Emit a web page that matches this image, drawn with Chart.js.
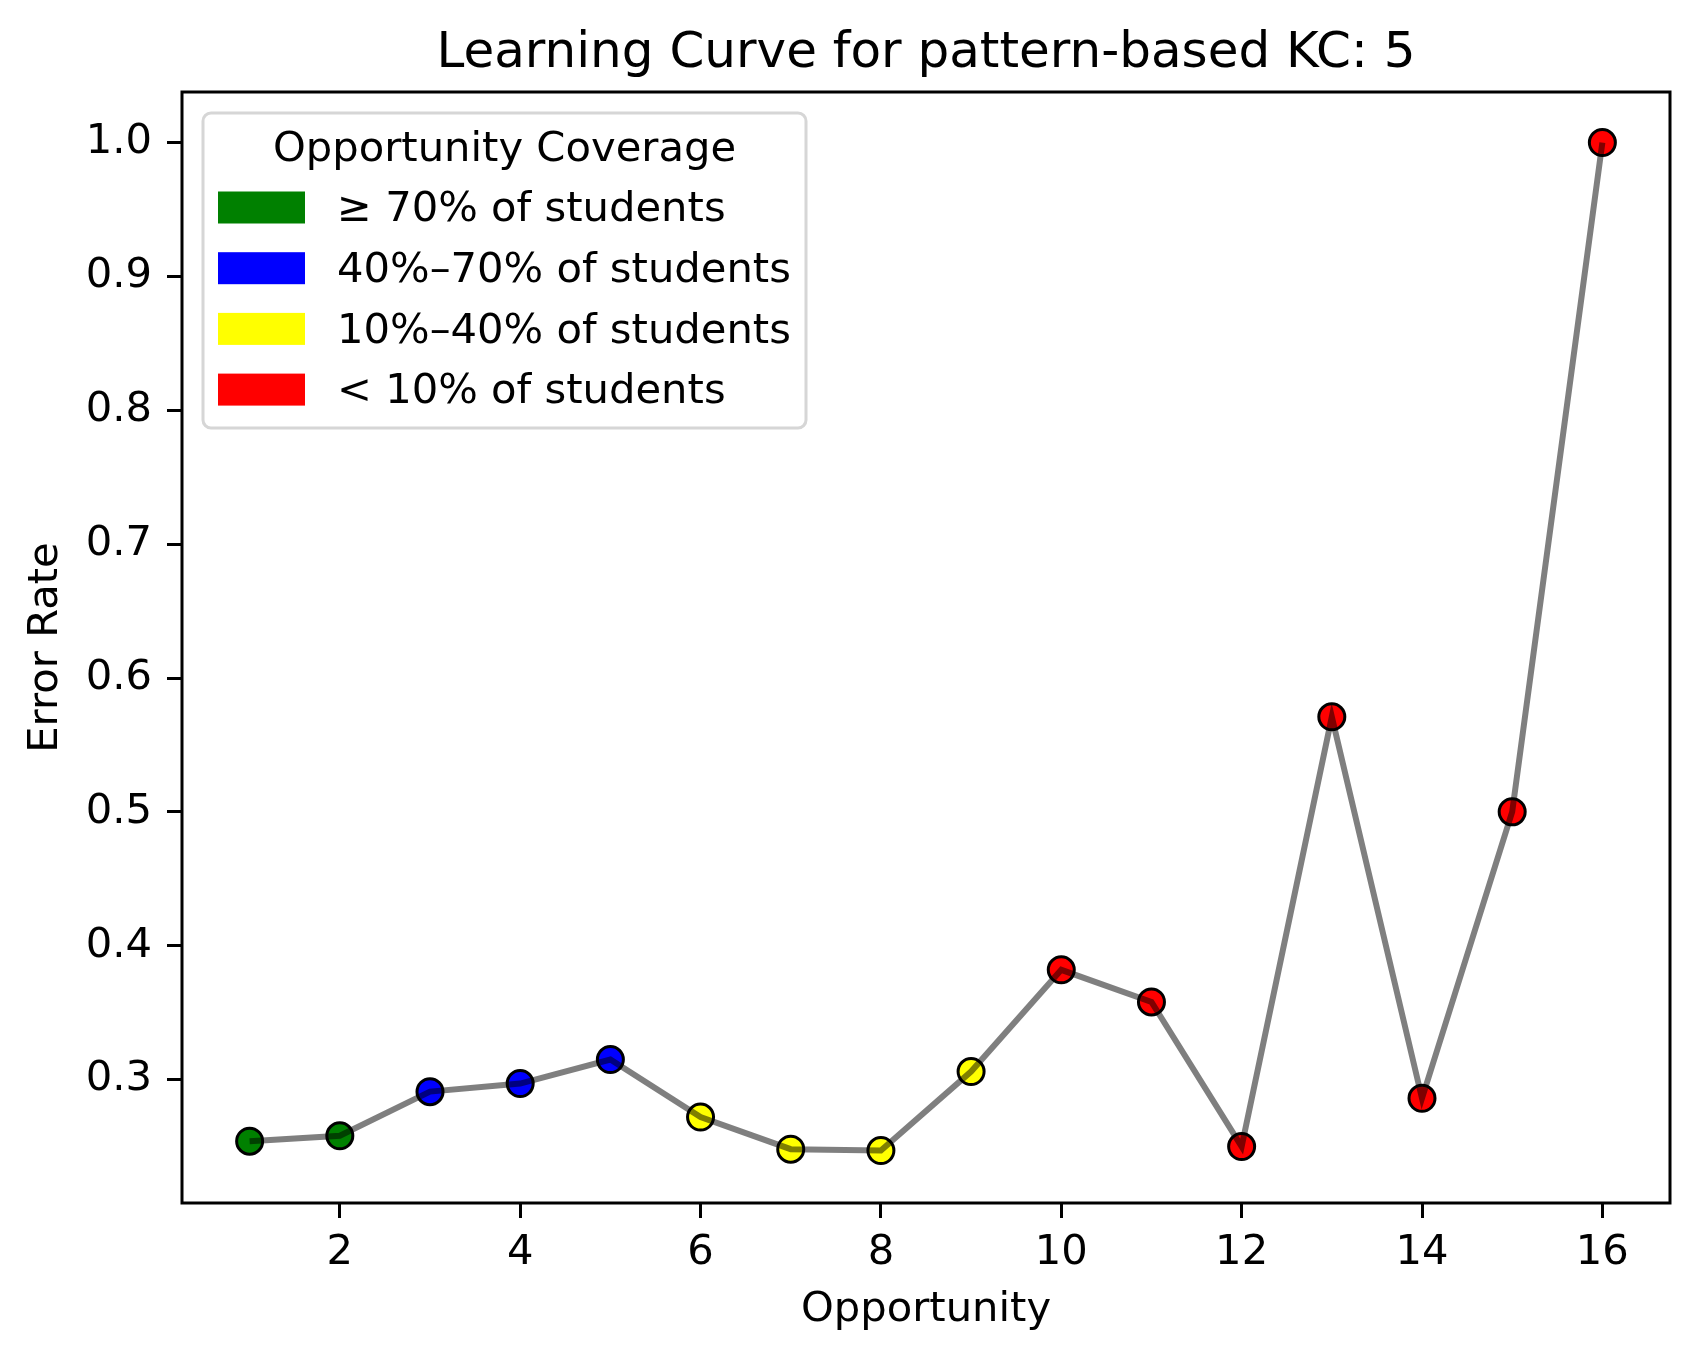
<!DOCTYPE html>
<html>
<head>
<meta charset="utf-8">
<script src="https://cdn.jsdelivr.net/npm/chart.js@4/dist/chart.umd.min.js"></script>
<style>
  body { margin: 0; background: #fff; }
  #wrap { width: 1700px; height: 1357px; position: relative; }
</style>
</head>
<body>
<div id="wrap"><canvas id="lc"></canvas></div>
<script>
const opportunities = [1, 2, 3, 4, 5, 6, 7, 8, 9, 10, 11, 12, 13, 14, 15, 16];
const errorRates    = [0.254, 0.258, 0.291, 0.297, 0.315, 0.272, 0.248, 0.247, 0.306, 0.382, 0.358, 0.250, 0.571, 0.286, 0.500, 1.000];
const coverage      = [0, 0, 1, 1, 1, 2, 2, 2, 2, 3, 3, 3, 3, 3, 3, 3];   // index into the legend groups

const groupLabels = ['≥ 70% of students', '40%–70% of students', '10%–40% of students', '< 10% of students'];
const groupColors = ['#008000', '#0000ff', '#ffff00', '#ff0000'];

const xTicks = [2, 4, 6, 8, 10, 12, 14, 16];
const yTicks = [0.3, 0.4, 0.5, 0.6, 0.7, 0.8, 0.9, 1.0];

const FONT = "'DejaVu Sans', sans-serif";
const FS   = 41.7;

Chart.defaults.font.family = FONT;
Chart.defaults.color = '#000';

const points = opportunities.map((x, i) => ({ x, y: errorRates[i] }));

// axes frame drawn over the data, like matplotlib spines
const framePlugin = {
  id: 'frame',
  afterDatasetsDraw(chart) {
    const { ctx, chartArea: a } = chart;
    ctx.save();
    ctx.strokeStyle = '#000';
    ctx.lineWidth = 3;
    ctx.strokeRect(a.left, a.top, a.right - a.left, a.bottom - a.top);
    ctx.restore();
  }
};

// legend box with title, in the top-left of the plot
const legendPlugin = {
  id: 'coverageLegend',
  afterDraw(chart) {
    const ctx = chart.ctx;
    const L = 203, T = 113, W = 603, H = 315, r = 8;
    ctx.save();
    ctx.beginPath();
    ctx.roundRect(L, T, W, H, r);
    ctx.fillStyle = 'rgba(255,255,255,0.8)';
    ctx.fill();
    ctx.lineWidth = 3;
    ctx.strokeStyle = '#d6d6d6';
    ctx.stroke();

    ctx.fillStyle = '#000';
    ctx.font = FS + 'px ' + FONT;
    ctx.textBaseline = 'middle';
    ctx.textAlign = 'center';
    ctx.fillText('Opportunity Coverage', L + W / 2, 150);

    ctx.textAlign = 'left';
    groupLabels.forEach((lab, i) => {
      const cy = 207.5 + i * 60.7;
      ctx.fillStyle = groupColors[i];
      ctx.fillRect(218, cy - 16, 87, 32);
      ctx.fillStyle = '#000';
      ctx.fillText(lab, 337, cy + 3);
    });
    ctx.restore();
  }
};

new Chart(document.getElementById('lc'), {
  type: 'scatter',
  data: {
    datasets: [
      {
        label: 'curve',
        data: points,
        showLine: true,
        borderColor: 'rgba(0,0,0,0.5)',
        borderWidth: 6,
        pointRadius: 0,
        pointHoverRadius: 0,
        order: 0
      },
      {
        label: 'points',
        data: points,
        showLine: false,
        pointRadius: 13,
        pointHoverRadius: 13,
        pointBorderWidth: 3,
        pointBorderColor: '#000',
        pointBackgroundColor: coverage.map(c => groupColors[c]),
        order: 1
      }
    ]
  },
  options: {
    responsive: true,
    maintainAspectRatio: false,
    animation: false,
    layout: { padding: { left: 0, right: 30, top: 0, bottom: 0 } },
    plugins: {
      legend: { display: false },
      tooltip: { enabled: false },
      title: {
        display: true,
        fullSize: false,
        text: 'Learning Curve for pattern-based KC: 5',
        color: '#000',
        font: { size: 50, weight: 'normal', family: FONT },
        padding: { top: 24, bottom: 8 }
      }
    },
    scales: {
      x: {
        type: 'linear',
        min: 0.25,
        max: 16.75,
        afterBuildTicks: s => { s.ticks = xTicks.map(v => ({ value: v })); },
        afterFit: s => { s.height = 154; },
        border: { display: false },
        grid: { drawOnChartArea: false, drawTicks: true, tickLength: 15, tickWidth: 3, tickColor: '#000' },
        ticks: { padding: 10, color: '#000', font: { size: FS }, callback: v => String(v) },
        title: { display: true, text: 'Opportunity', color: '#000', font: { size: FS }, padding: { top: 0, bottom: 22 } }
      },
      y: {
        type: 'linear',
        min: 0.2078,
        max: 1.0378,
        afterBuildTicks: s => { s.ticks = yTicks.map(v => ({ value: v })); },
        afterFit: s => { s.width = 182; },
        border: { display: false },
        grid: { drawOnChartArea: false, drawTicks: true, tickLength: 15, tickWidth: 3, tickColor: '#000' },
        ticks: { padding: 15, color: '#000', font: { size: FS }, callback: v => Number(v).toFixed(1) },
        title: { display: true, text: 'Error Rate', color: '#000', font: { size: FS }, padding: { top: 21, bottom: 0 } }
      }
    }
  },
  plugins: [framePlugin, legendPlugin]
});
</script>
</body>
</html>
